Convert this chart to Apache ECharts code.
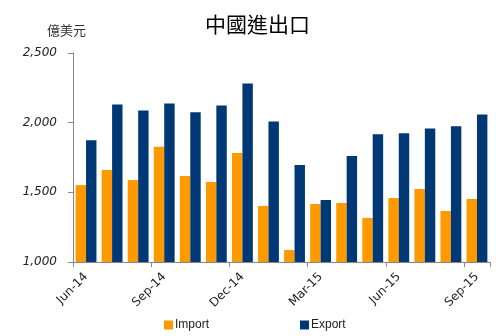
<!DOCTYPE html>
<html><head><meta charset="utf-8">
<script src="https://cdn.jsdelivr.net/npm/echarts@6/dist/echarts.min.js"></script>
<style>html,body{margin:0;padding:0;background:#fff}#c{width:496px;height:336px}</style>
</head><body><div id="c"></div>
<script>
const categories = ["Jun-14","Jul-14","Aug-14","Sep-14","Oct-14","Nov-14","Dec-14","Jan-15","Feb-15","Mar-15","Apr-15","May-15","Jun-15","Jul-15","Aug-15","Sep-15"];
const importValues = [1552,1660,1588,1827,1617,1574,1782,1402,1086,1416,1423,1316,1459,1524,1366,1452];
const exportValues = [1874,2131,2088,2138,2074,2124,2281,2009,1696,1445,1760,1916,1924,1959,1974,2059];
const yTicks = [1000,1500,2000,2500];

const chart = echarts.init(document.getElementById('c'), null, {renderer:'canvas'});
chart.setOption({
  animation:false,
  backgroundColor:'#fff',
  title:[
    {text:'中國進出口', left:205, top:14, padding:0, textStyle:{fontFamily:'Noto Sans CJK TC', fontSize:21, fontWeight:'normal', color:'#000'}},
    {text:'億美元', left:47, top:24, padding:0, textStyle:{fontFamily:'Noto Sans CJK TC', fontSize:13, fontWeight:'normal', color:'#333'}}
  ],
  grid:{left:73, right:6, top:53, bottom:74, containLabel:false},
  legend:{
    left:159, top:314, itemWidth:9, itemHeight:9, itemGap:91, icon:'rect',
    textStyle:{fontFamily:'Liberation Sans', fontSize:12, color:'#222', padding:[0,0,0,-3]},
    data:['Import','Export']
  },
  xAxis:{
    type:'category', data:categories, boundaryGap:true,
    axisLine:{lineStyle:{color:'#888', width:1}},
    axisTick:{show:true, interval:2, length:5, alignWithLabel:false, lineStyle:{color:'#888'}},
    axisLabel:{interval:2, rotate:45, fontFamily:'DejaVu Sans', fontSize:12, color:'#222', margin:13}
  },
  yAxis:{
    type:'value', min:yTicks[0], max:yTicks[yTicks.length-1], interval:500,
    axisLine:{show:true, lineStyle:{color:'#888', width:1}},
    axisTick:{show:true, length:5, lineStyle:{color:'#888'}},
    splitLine:{show:false},
    axisLabel:{fontFamily:'DejaVu Sans', fontStyle:'italic', fontSize:12, color:'#222', margin:16,
      formatter:v=>v.toLocaleString('en-US')}
  },
  series:[
    {name:'Import', type:'bar', data:importValues, barGap:'0%', barCategoryGap:'20%', itemStyle:{color:'#FF9900'}},
    {name:'Export', type:'bar', data:exportValues, barGap:'0%', barCategoryGap:'20%', itemStyle:{color:'#003876'}}
  ]
});
</script></body></html>
